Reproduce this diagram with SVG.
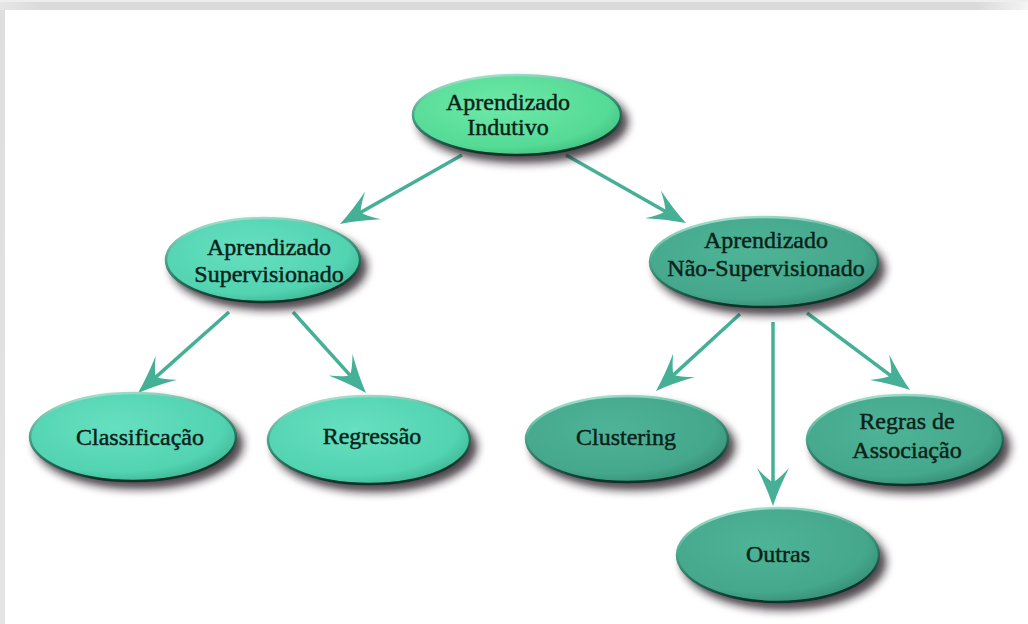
<svg xmlns="http://www.w3.org/2000/svg" width="1028" height="624" viewBox="0 0 1028 624">
  <defs>
    <linearGradient id="topband" x1="0" y1="0" x2="1" y2="0">
      <stop offset="0" stop-color="#e6e6e6"/>
      <stop offset="0.04" stop-color="#dadada"/>
      <stop offset="0.95" stop-color="#dadada"/>
      <stop offset="1" stop-color="#f4f4f4"/>
    </linearGradient>
    <linearGradient id="leftband" x1="0" y1="0" x2="0" y2="1">
      <stop offset="0" stop-color="#dedede"/>
      <stop offset="1" stop-color="#e4e4e4"/>
    </linearGradient>
    <radialGradient id="g1" cx="0.42" cy="0.38" r="0.65">
      <stop offset="0" stop-color="#6ee8a8"/>
      <stop offset="0.8" stop-color="#55db96"/>
      <stop offset="1" stop-color="#45c283"/>
    </radialGradient>
    <radialGradient id="g2" cx="0.42" cy="0.38" r="0.65">
      <stop offset="0" stop-color="#66e0c0"/>
      <stop offset="0.8" stop-color="#52d3b1"/>
      <stop offset="1" stop-color="#40b898"/>
    </radialGradient>
    <radialGradient id="g3" cx="0.42" cy="0.38" r="0.65">
      <stop offset="0" stop-color="#4fb497"/>
      <stop offset="0.8" stop-color="#44a78c"/>
      <stop offset="1" stop-color="#378f77"/>
    </radialGradient>
    <linearGradient id="rim" x1="0" y1="0" x2="0.3" y2="1">
      <stop offset="0" stop-color="#b8f0dc"/>
      <stop offset="0.45" stop-color="#4aa88c"/>
      <stop offset="1" stop-color="#0b3026"/>
    </linearGradient>
    <filter id="shadow" x="-20%" y="-20%" width="150%" height="160%">
      <feGaussianBlur in="SourceAlpha" stdDeviation="4"/>
      <feOffset dx="6" dy="7" result="b"/>
      <feFlood flood-color="#221820" flood-opacity="0.8"/>
      <feComposite in2="b" operator="in" result="s"/>
      <feMerge>
        <feMergeNode in="s"/>
        <feMergeNode in="SourceGraphic"/>
      </feMerge>
    </filter>
    <marker id="arrow" markerUnits="userSpaceOnUse" markerWidth="56" markerHeight="44" viewBox="-44 -22 56 44" refX="-22" refY="0" orient="auto">
      <path d="M0,0 Q-18,-6 -38,-16 Q-26,-5 -24,0 Q-26,5 -38,16 Q-18,6 0,0 Z" fill="#45b096"/>
    </marker>
    <style>
      .el { stroke: url(#rim); stroke-width: 2.5; }
      .n1 { fill: url(#g1); }
      .n2 { fill: url(#g2); }
      .n3 { fill: url(#g3); }
      .lbl { font-family: "Liberation Serif", "Times New Roman", serif; font-size: 24px; fill: #0b2219; stroke: #0b2219; stroke-width: 0.45; text-anchor: middle; }
      .conn line { stroke: #45b096; stroke-width: 3.5; fill: none; marker-end: url(#arrow); }
    </style>
  </defs>

  <rect x="0" y="0" width="1028" height="624" fill="#ffffff"/>
  <rect x="0" y="0" width="1028" height="10" fill="url(#topband)"/>
  <rect x="0" y="0" width="1028" height="2" fill="#eeeeee"/>
  <rect x="0" y="10" width="5" height="614" fill="url(#leftband)"/>

  <g id="connectors" class="conn">
    <line x1="462" y1="155" x2="359.1" y2="213.2"/>
    <line x1="566" y1="155" x2="666.9" y2="212.2"/>
    <line x1="229" y1="312" x2="154.4" y2="378.4"/>
    <line x1="293" y1="312" x2="351.3" y2="376.7"/>
    <line x1="740" y1="314" x2="672.2" y2="376.1"/>
    <line x1="773" y1="322" x2="773" y2="484"/>
    <line x1="807" y1="313" x2="892.4" y2="376.8"/>
  </g>

  <g id="node-indutivo">
    <ellipse class="el n1" cx="517" cy="115" rx="104" ry="40" filter="url(#shadow)"/>
    <text class="lbl" x="508" y="110">Aprendizado</text>
    <text class="lbl" x="508" y="135">Indutivo</text>
  </g>

  <g id="node-supervisionado">
    <ellipse class="el n2" cx="263" cy="260" rx="97" ry="42" filter="url(#shadow)"/>
    <text class="lbl" x="269" y="255">Aprendizado</text>
    <text class="lbl" x="269" y="282">Supervisionado</text>
  </g>

  <g id="node-nao-supervisionado">
    <ellipse class="el n3" cx="764" cy="262" rx="114" ry="45" filter="url(#shadow)"/>
    <text class="lbl" x="766" y="248">Aprendizado</text>
    <text class="lbl" x="766" y="276">Não-Supervisionado</text>
  </g>

  <g id="node-classificacao">
    <ellipse class="el n2" cx="133" cy="437" rx="103" ry="44" filter="url(#shadow)"/>
    <text class="lbl" x="140" y="445">Classificação</text>
  </g>

  <g id="node-regressao">
    <ellipse class="el n2" cx="369" cy="440" rx="101" ry="44" filter="url(#shadow)"/>
    <text class="lbl" x="372" y="444">Regressão</text>
  </g>

  <g id="node-clustering">
    <ellipse class="el n3" cx="627" cy="439" rx="101" ry="43" filter="url(#shadow)"/>
    <text class="lbl" x="626" y="445">Clustering</text>
  </g>

  <g id="node-regras">
    <ellipse class="el n3" cx="905" cy="440" rx="98" ry="45" filter="url(#shadow)"/>
    <text class="lbl" x="907" y="429">Regras de</text>
    <text class="lbl" x="907" y="458">Associação</text>
  </g>

  <g id="node-outras">
    <ellipse class="el n3" cx="778" cy="555" rx="101" ry="47" filter="url(#shadow)"/>
    <text class="lbl" x="778" y="562">Outras</text>
  </g>
</svg>
